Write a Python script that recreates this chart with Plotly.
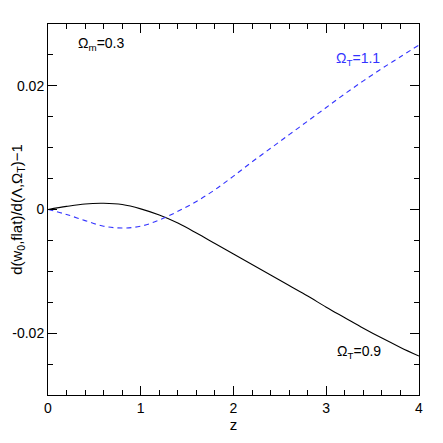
import plotly.graph_objects as go

z = [0.0, 0.2, 0.4, 0.6, 0.8, 1.0, 1.2, 1.4, 1.6, 1.8, 2.0, 2.2, 2.4, 2.6, 2.8, 3.0, 3.2, 3.4, 3.6, 3.8, 4.0]
d_omega09 = [0.0, 0.0005, 0.0009, 0.0010, 0.0008, 0.0001, -0.0009, -0.0022, -0.0038, -0.0055, -0.0072,
             -0.0089, -0.0106, -0.0123, -0.0140, -0.0158, -0.0175, -0.0192, -0.0208, -0.0223, -0.0237]
d_omega11 = [0.0, -0.0008, -0.0018, -0.0027, -0.0030, -0.0027, -0.0017, -0.0003, 0.0013, 0.0032, 0.0054,
             0.0077, 0.0099, 0.0121, 0.0143, 0.0165, 0.0187, 0.0208, 0.0228, 0.0247, 0.0266]

xtick_vals = [0, 1, 2, 3, 4]
xtick_text = ["0", "1", "2", "3", "4"]
ytick_vals = [-0.02, 0, 0.02]
ytick_text = ["-0.02", "0", "0.02"]

font = dict(family="Liberation Sans, Arial, sans-serif", size=14, color="black")
title_font = dict(family="Liberation Sans, Arial, sans-serif", size=15, color="black")

fig = go.Figure()
fig.add_trace(go.Scatter(x=z, y=d_omega09, mode="lines", line=dict(color="black", width=1.1, shape="spline"),
                         showlegend=False))
fig.add_trace(go.Scatter(x=z, y=d_omega11, mode="lines",
                         line=dict(color="#3333ff", width=1.1, dash="5px,4px", shape="spline"),
                         showlegend=False))

fig.add_annotation(x=0.57, y=0.0268, text="Ω<sub>m</sub>=0.3", showarrow=False, font=font, xanchor="center")
fig.add_annotation(x=3.34, y=0.0244, text="Ω<sub>T</sub>=1.1", showarrow=False,
                   font=dict(family=font["family"], size=14, color="#3333ff"), xanchor="center")
fig.add_annotation(x=3.35, y=-0.0230, text="Ω<sub>T</sub>=0.9", showarrow=False, font=font, xanchor="center")

axis_common = dict(showgrid=False, zeroline=False, showline=True, linecolor="black", linewidth=1,
                   mirror="allticks", ticks="inside", ticklen=9, tickcolor="black", tickwidth=1,
                   tickfont=font, automargin=False)

fig.update_xaxes(range=[0, 4], tickvals=xtick_vals, ticktext=xtick_text,
                 minor=dict(dtick=0.2, ticks="inside", ticklen=5, tickcolor="black", tickwidth=1),
                 title=dict(text="z", font=title_font, standoff=0), **axis_common)
fig.update_yaxes(range=[-0.03, 0.03], tickvals=ytick_vals, ticktext=ytick_text,
                 minor=dict(dtick=0.005, ticks="inside", ticklen=5, tickcolor="black", tickwidth=1),
                 title=dict(text="d(w<sub>0</sub>,flat)/d(Λ,Ω<sub>T</sub>)−1", font=title_font, standoff=4),
                 **axis_common)

# page body adds an 8px offset, so margins are reduced accordingly
fig.update_layout(width=435, height=435, margin=dict(l=40, r=24, t=16, b=48),
                  plot_bgcolor="white", paper_bgcolor="white", font=font)

fig.write_html("out.html")
